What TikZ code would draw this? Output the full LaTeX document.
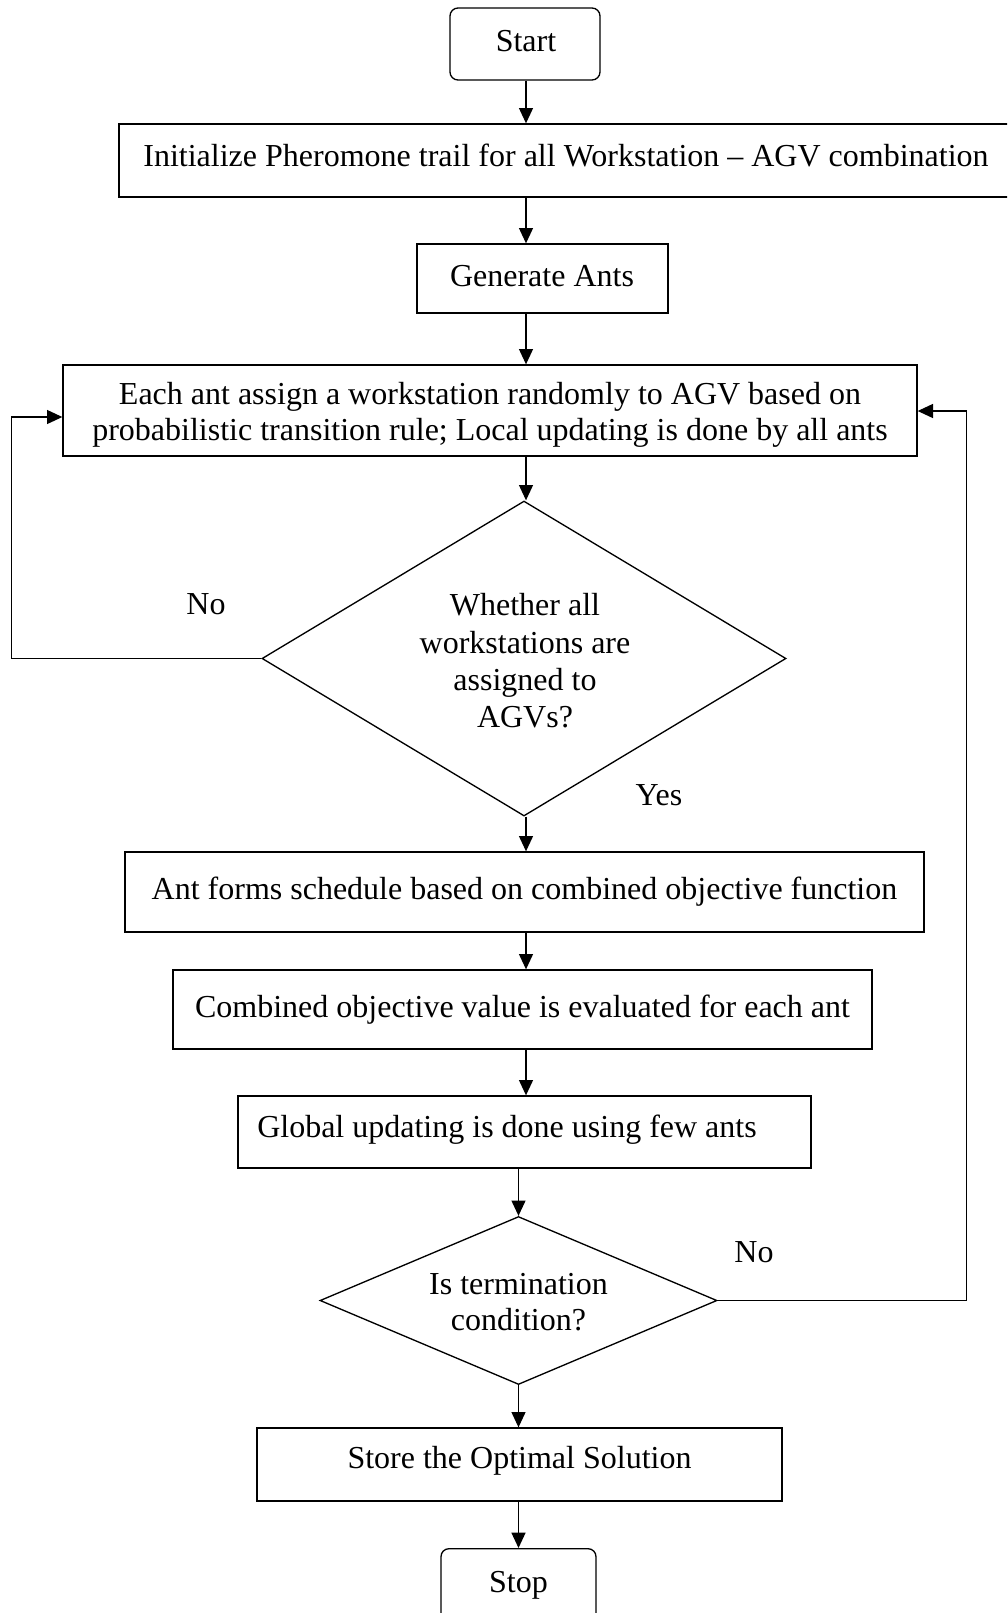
\documentclass[tikz,border=0pt]{standalone}
\usepackage{fontspec}
\setmainfont{Liberation Serif}
\usetikzlibrary{arrows.meta,shapes.geometric}
\begin{document}
\begin{tikzpicture}[x=0.75pt,y=-0.75pt,
  font=\fontsize{24}{27}\selectfont,
  every node/.style={inner sep=0pt, align=center},
  procbox/.style={draw, line width=1pt, rectangle},
  termbox/.style={draw, line width=1pt, rectangle, rounded corners=6pt},
  decision/.style={draw, line width=1pt, diamond, inner sep=0pt},
  arr/.style={line width=1pt, -{Triangle[length=11.5pt,width=10.5pt]}},
  conn/.style={line width=1pt}]
\useasboundingbox (0,0) rectangle (1007,1613);
\clip (0,0) rectangle (1007,1613);

\node[termbox, minimum width=112.5pt, minimum height=54pt] (start) at (525,44) {};
\node (starttxt) at (526,41) {Start};
\node[procbox, minimum width=668.25pt, minimum height=54.75pt] (init) at (564.5,160.5) {};
\node (inittxt) at (566,155) {Initialize Pheromone trail for all Workstation -- AGV combination};
\node[procbox, minimum width=188.25pt, minimum height=51.75pt] (gen) at (542.5,278.5) {};
\node (gentxt) at (542,276) {Generate Ants};
\node[procbox, minimum width=640.5pt, minimum height=68.25pt] (each) at (490,410.5) {};
\node (eachtxt) at (490,415) {Each ant assign a workstation randomly to AGV based on\\probabilistic transition rule; Local updating is done by all ants};
\node[decision, minimum width=393pt, minimum height=236.25pt, aspect=1.66] (d1) at (524,658.5) {};
\node[font=\fontsize{24}{28}\selectfont] (d1txt) at (525,661) {Whether all\\workstations are\\assigned to\\AGVs?};
\node[procbox, minimum width=599.25pt, minimum height=60pt] (ant) at (524.5,892) {Ant forms schedule based on combined objective function};
\node[procbox, minimum width=524.25pt, minimum height=59.25pt] (comb) at (522.5,1009.5) {Combined objective value is evaluated for each ant};
\node[procbox, minimum width=429.75pt, minimum height=54pt] (glob) at (524.5,1132) {};
\node (globtxt) at (507,1130) {Global updating is done using few ants};
\node[decision, minimum width=297.75pt, minimum height=126pt, aspect=2.36] (d2) at (518.5,1300.5) {};
\node (d2txt) at (518.5,1302) {Is termination\\condition?};
\node[procbox, minimum width=393.75pt, minimum height=54.75pt] (store) at (519.5,1464.5) {};
\node (storetxt) at (519.5,1461) {Store the Optimal Solution};
\node[termbox, minimum width=116.25pt, minimum height=61.5pt, anchor=north] (stop) at (518.5,1548) {};
\node (stoptxt) at (518.5,1585) {Stop};

\node (no1) at (206,604) {No};
\node (yes1) at (659,795) {Yes};
\node (no2) at (754,1252) {No};

\coordinate (ax) at (526,0);
\draw[arr] (start.south -| ax) -- (init.north -| ax);
\draw[arr] (init.south -| ax) -- (gen.north -| ax);
\draw[arr] (gen.south -| ax) -- (each.north -| ax);
\draw[arr] (each.south -| ax) -- (d1.north -| ax);
\draw[arr] (d1.south -| ax) -- (ant.north -| ax);
\draw[arr] (ant.south -| ax) -- (comb.north -| ax);
\draw[arr] (comb.south -| ax) -- (glob.north -| ax);
\draw[arr] (glob.south -| d2.north) -- (d2.north);
\draw[arr] (d2.south) -- (d2.south |- store.north);
\draw[arr] (store.south -| stop.north) -- (stop.north);

\coordinate (lbend) at (11.5,417);
\draw[arr] (d1.west) -| (lbend) -- (lbend -| each.west);
\coordinate (rbend) at (966.5,411);
\draw[arr] (d2.east) -| (rbend) -- (rbend -| each.east);
\end{tikzpicture}
\end{document}
